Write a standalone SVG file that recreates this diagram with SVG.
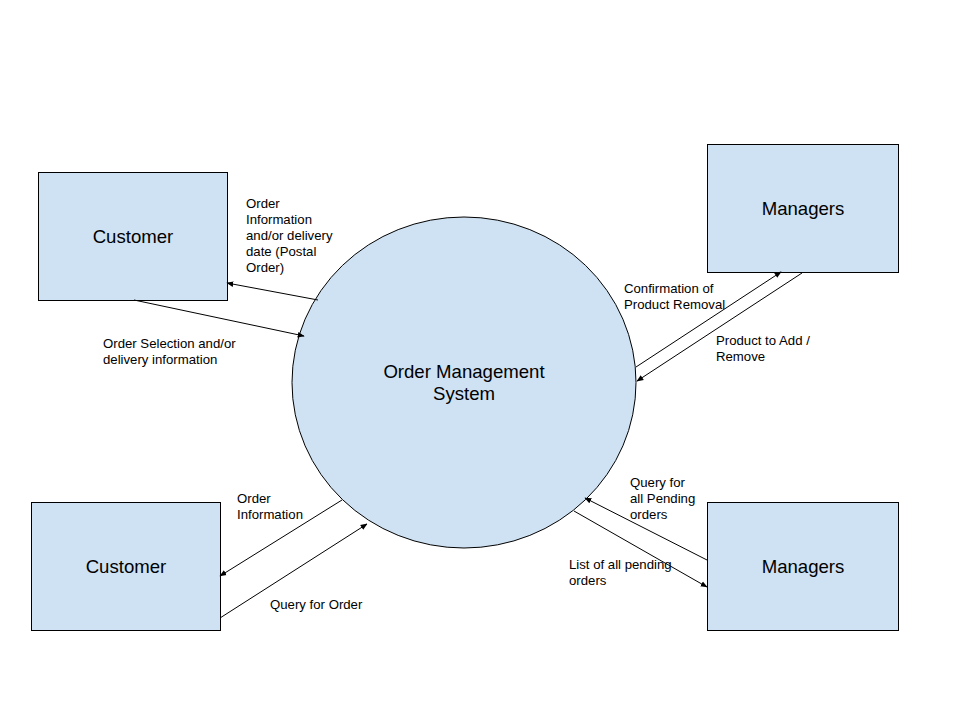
<svg xmlns="http://www.w3.org/2000/svg" width="960" height="720" viewBox="0 0 960 720">
<defs>
<marker id="ah" viewBox="0 0 10 10" refX="9" refY="5" markerWidth="7" markerHeight="7" orient="auto" markerUnits="userSpaceOnUse">
<path d="M0,1 L10,5 L0,9 z" fill="#000"/>
</marker>
<style>
.box{fill:#cfe2f3;stroke:#000;stroke-width:1}
.big{font-family:"Liberation Sans",Arial,sans-serif;font-size:18.6px;fill:#000;text-anchor:middle}
.lbl{font-family:"Liberation Sans",Arial,sans-serif;font-size:13.2px;fill:#000}
.con{stroke:#000;stroke-width:1;fill:none;marker-end:url(#ah)}
</style>
</defs>
<rect width="960" height="720" fill="#fff"/>
<g id="system">
<ellipse cx="464" cy="382.5" rx="172" ry="165.5" class="box"/>
<text class="big" x="464" y="378">Order Management</text>
<text class="big" x="464" y="400">System</text>
</g>
<g id="customer-top">
<rect x="38.5" y="172.5" width="189" height="128" class="box"/>
<text class="big" x="133" y="243">Customer</text>
</g>
<g id="managers-top">
<rect x="707.5" y="144.5" width="191" height="128" class="box"/>
<text class="big" x="803" y="215">Managers</text>
</g>
<g id="customer-bottom">
<rect x="31.5" y="502.5" width="189" height="128" class="box"/>
<text class="big" x="126" y="573">Customer</text>
</g>
<g id="managers-bottom">
<rect x="707.5" y="502.5" width="191" height="128" class="box"/>
<text class="big" x="803" y="573">Managers</text>
</g>
<g id="connectors">
<line class="con" x1="318" y1="300" x2="227" y2="283"/>
<line class="con" x1="134" y1="300" x2="304" y2="336"/>
<line class="con" x1="636" y1="367" x2="781" y2="272"/>
<line class="con" x1="802" y1="273" x2="637" y2="381"/>
<line class="con" x1="707" y1="560" x2="585" y2="498"/>
<line class="con" x1="574" y1="511" x2="707" y2="587"/>
<line class="con" x1="342" y1="500" x2="220" y2="576"/>
<line class="con" x1="220" y1="618" x2="367" y2="524"/>
</g>
<g id="labels">
<text class="lbl" x="246" y="208">Order</text>
<text class="lbl" x="246" y="224">Information</text>
<text class="lbl" x="246" y="240">and/or delivery</text>
<text class="lbl" x="246" y="256">date (Postal</text>
<text class="lbl" x="246" y="272">Order)</text>
<text class="lbl" x="103" y="348">Order Selection and/or</text>
<text class="lbl" x="103" y="364">delivery information</text>
<text class="lbl" x="624" y="293">Confirmation of</text>
<text class="lbl" x="624" y="309">Product Removal</text>
<text class="lbl" x="716" y="345">Product to Add /</text>
<text class="lbl" x="716" y="361">Remove</text>
<text class="lbl" x="630" y="487">Query for</text>
<text class="lbl" x="630" y="503">all Pending</text>
<text class="lbl" x="630" y="519">orders</text>
<text class="lbl" x="569" y="569">List of all pending</text>
<text class="lbl" x="569" y="585">orders</text>
<text class="lbl" x="237" y="503">Order</text>
<text class="lbl" x="237" y="519">Information</text>
<text class="lbl" x="270" y="609">Query for Order</text>
</g>
</svg>
